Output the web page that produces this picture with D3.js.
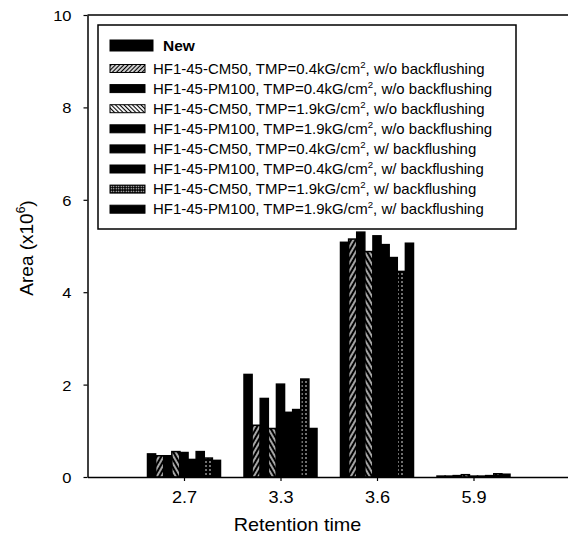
<!DOCTYPE html>
<html>
<head>
<meta charset="utf-8">
<script src="https://cdn.jsdelivr.net/npm/d3@7"></script>
<style>
  body { margin: 0; background: #fff; }
  svg text { font-family: "Liberation Sans", Arial, sans-serif; fill: #000; }
</style>
</head>
<body>
<div id="chart"></div>
<script>
// data (Area in units of 10^6)
var categories = ["2.7", "3.3", "3.6", "5.9"];

var seriesNames = [
  "New",
  "HF1-45-CM50, TMP=0.4kG/cm², w/o backflushing",
  "HF1-45-PM100, TMP=0.4kG/cm², w/o backflushing",
  "HF1-45-CM50, TMP=1.9kG/cm², w/o backflushing",
  "HF1-45-PM100, TMP=1.9kG/cm², w/o backflushing",
  "HF1-45-CM50, TMP=0.4kG/cm², w/ backflushing",
  "HF1-45-PM100, TMP=0.4kG/cm², w/ backflushing",
  "HF1-45-CM50, TMP=1.9kG/cm², w/ backflushing",
  "HF1-45-PM100, TMP=1.9kG/cm², w/ backflushing"
];

var newVals      = [0.50, 2.22, 5.08, 0.02];
var cm50_04_wo   = [0.46, 1.12, 5.15, 0.02];
var pm100_04_wo  = [0.46, 1.70, 5.30, 0.03];
var cm50_19_wo   = [0.55, 1.05, 4.88, 0.05];
var pm100_19_wo  = [0.53, 2.01, 5.22, 0.02];
var cm50_04_w    = [0.38, 1.40, 5.03, 0.02];
var pm100_04_w   = [0.55, 1.46, 4.75, 0.03];
var cm50_19_w    = [0.41, 2.12, 4.45, 0.07];
var pm100_19_w   = [0.36, 1.05, 5.06, 0.06];

var seriesValues = [newVals, cm50_04_wo, pm100_04_wo, cm50_19_wo, pm100_19_wo,
                    cm50_04_w, pm100_04_w, cm50_19_w, pm100_19_w];

var yTicks = [0, 2, 4, 6, 8, 10];

var width = 568, height = 537;
var sx = 1.1; // the source text is a bit stretched sideways

var svg = d3.select("#chart").append("svg")
  .attr("width", width)
  .attr("height", height);

// fill patterns
var defs = svg.append("defs");

function hatch(id, angle, bg, fg, lw, step) {
  var p = defs.append("pattern")
    .attr("id", id)
    .attr("patternUnits", "userSpaceOnUse")
    .attr("width", step).attr("height", step)
    .attr("patternTransform", "rotate(" + angle + ")");
  p.append("rect").attr("width", step).attr("height", step).attr("fill", bg);
  p.append("line")
    .attr("x1", step / 2).attr("x2", step / 2)
    .attr("y1", 0).attr("y2", step)
    .attr("stroke", fg).attr("stroke-width", lw);
}
function dots(id, bg, fg, r, step) {
  var p = defs.append("pattern")
    .attr("id", id)
    .attr("patternUnits", "userSpaceOnUse")
    .attr("width", step).attr("height", step);
  p.append("rect").attr("width", step).attr("height", step).attr("fill", bg);
  p.append("circle").attr("cx", step / 2).attr("cy", step / 2).attr("r", r).attr("fill", fg);
}

hatch("hatchA", 30, "#000", "#fff", 1.3, 4);
hatch("hatchB", -30, "#000", "#fff", 1.3, 4);
dots("dotsBar", "#000", "#fff", 0.8, 4);
hatch("hatchA_leg", 45, "#fff", "#000", 1.4, 3);
hatch("hatchB_leg", -45, "#fff", "#000", 1.1, 3);
dots("dotsLeg", "#000", "#fff", 0.7, 2.5);

var barFill = { 1: "url(#hatchA)", 3: "url(#hatchB)", 7: "url(#dotsBar)" };
var legFill = { 1: "url(#hatchA_leg)", 3: "url(#hatchB_leg)", 7: "url(#dotsLeg)" };

// scales
var x0 = 87.5, step = 96.5;
var x = d3.scaleLinear().domain([0, 5.5]).range([x0, x0 + 5.5 * step]);
var inner = d3.scaleBand().domain(d3.range(seriesNames.length)).range([-36.5, 36.5]);
var y = d3.scaleLinear().domain([0, 10]).range([477, 15]);

// frame top line (box runs off the right edge)
svg.append("line")
  .attr("x1", x0).attr("x2", x(5.5))
  .attr("y1", y(10)).attr("y2", y(10))
  .attr("stroke", "#000").attr("stroke-width", 1.5);

// bars
var rows = [];
seriesValues.forEach(function(vals, s) {
  vals.forEach(function(v, c) { rows.push({ s: s, c: c, v: v }); });
});

svg.append("g")
  .selectAll("rect")
  .data(rows)
  .enter()
  .append("rect")
  .attr("x", function(d) { return x(d.c + 1) + inner(d.s); })
  .attr("y", function(d) { return y(d.v); })
  .attr("width", inner.bandwidth())
  .attr("height", function(d) { return y(0) - y(d.v); })
  .attr("fill", function(d) { return barFill[d.s] || "#000"; })
  .attr("stroke", "#000")
  .attr("stroke-width", 1.5);

// axes
var yAxis = svg.append("g")
  .attr("transform", "translate(" + x0 + ",0)")
  .call(d3.axisLeft(y).tickValues(yTicks).tickSize(4).tickSizeOuter(0));
yAxis.select(".domain").attr("stroke-width", 1.5);
yAxis.selectAll("line").attr("stroke-width", 1.2);
yAxis.selectAll("text")
  .attr("x", -16 / sx)
  .attr("dy", "0.36em")
  .attr("font-size", 15)
  .attr("transform", "scale(" + sx + ",1)");

var xAxis = svg.append("g")
  .attr("transform", "translate(0," + y(0) + ")")
  .call(d3.axisBottom(x)
    .tickValues(d3.range(1, categories.length + 1))
    .tickFormat(function(d) { return categories[d - 1]; })
    .tickSize(4).tickSizeOuter(0));
xAxis.select(".domain").attr("stroke-width", 1.5);
xAxis.selectAll("line").attr("stroke-width", 1.2);
xAxis.selectAll("text")
  .attr("y", 26)
  .attr("dy", 0)
  .attr("font-size", 16.5)
  .attr("transform", "scale(" + sx + ",1)");

// axis titles
svg.append("text")
  .attr("text-anchor", "middle")
  .attr("font-size", 18)
  .attr("transform", "translate(297.5,531) scale(" + sx + ",1)")
  .text("Retention time");

var yt = svg.append("text")
  .attr("text-anchor", "middle")
  .attr("font-size", 19)
  .attr("transform", "translate(33,248) rotate(-90)");
yt.append("tspan").text("Area (x10");
yt.append("tspan").attr("font-size", 12).attr("dy", -8).text("6");
yt.append("tspan").attr("dy", 8).text(")");

// legend
var legend = svg.append("g").attr("class", "legend");
legend.append("rect")
  .attr("x", 98).attr("y", 25)
  .attr("width", 418).attr("height", 204)
  .attr("fill", "#fff")
  .attr("stroke", "#000")
  .attr("stroke-width", 1.5);

var rowY = function(i) { return i === 0 ? 45.5 : 68.5 + (i - 1) * 20.1; };
var lsx = 1.07;

seriesNames.forEach(function(name, i) {
  var cy = rowY(i);
  var sw = i === 0 ? { w: 43, h: 11, tx: 163 } : { w: 35, h: 8, tx: 153 };
  legend.append("rect")
    .attr("x", 110).attr("y", cy - sw.h / 2)
    .attr("width", sw.w).attr("height", sw.h)
    .attr("fill", legFill[i] || "#000")
    .attr("stroke", "#000").attr("stroke-width", 1);

  var t = legend.append("text")
    .attr("transform", "translate(" + sw.tx + "," + (cy + 5) + ") scale(" + lsx + ",1)")
    .attr("font-size", i === 0 ? 14.5 : 14)
    .attr("font-weight", i === 0 ? "bold" : null);
  var parts = name.split("²");
  t.append("tspan").text(parts[0]);
  if (parts.length > 1) {
    t.append("tspan").attr("font-size", 9).attr("dy", -6).text("2");
    t.append("tspan").attr("dy", 6).text(parts[1]);
  }
});
</script>
</body>
</html>
